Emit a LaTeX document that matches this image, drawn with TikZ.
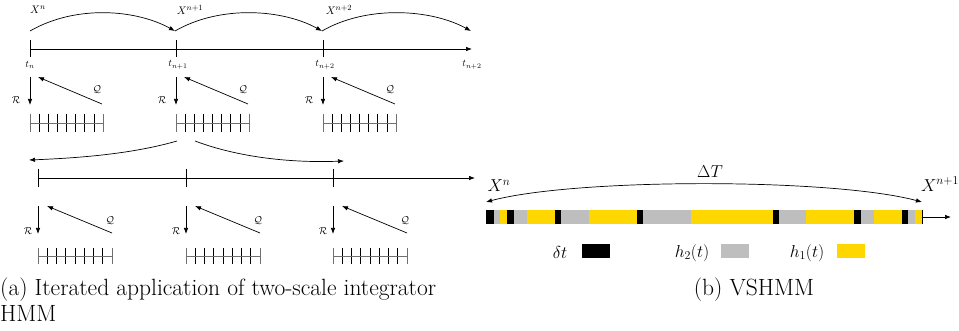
\documentclass[tikz,border=0pt]{standalone}
\usetikzlibrary{arrows.meta}
\definecolor{hgold}{HTML}{FFD700}
\definecolor{hgray}{HTML}{BEBEBE}
\definecolor{gridgray}{HTML}{707070}
\begin{document}
\begin{tikzpicture}[x=1pt,y=-1pt,
  arr/.style={-{Latex[length=6pt,width=4.5pt]}, line width=0.7pt},
  darr/.style={{Latex[length=6pt,width=4.5pt]}-{Latex[length=6pt,width=4.5pt]}, line width=0.7pt},
  tickline/.style={line width=0.7pt},
  lab/.style={inner sep=0pt, font=\fontsize{10}{12}\selectfont},
  biglab/.style={inner sep=0pt, font=\fontsize{17}{20}\selectfont},
  captext/.style={inner sep=0pt, anchor=base west, font=\fontsize{23.5}{28}\selectfont},
  gridln/.style={line width=0.9pt, gridgray},
  gtick/.style={line width=0.6pt, black}]
\useasboundingbox (0,0) rectangle (959,331);

% ---------- top row ----------
\foreach \i/\x in {0/30,1/176,2/323}{
  \coordinate (tt\i) at (\x,49);
  \draw[tickline] (\x,40) -- (\x,57);
}
\coordinate (tend) at (472,49);
\draw[arr] (tt0) -- (tend);

\coordinate (a0) at (30,31);
\coordinate (a1) at (175,31);
\coordinate (a2) at (322,31);
\coordinate (a3) at (471,31);
\draw[arr] (a0) .. controls +(45,-26) and +(-40,-22) .. (a1);
\draw[arr] (a1) .. controls +(45,-26) and +(-40,-22) .. (a2);
\draw[arr] (a2) .. controls +(45,-26) and +(-40,-22) .. (a3);

\node[lab,font=\fontsize{11}{13}\selectfont] (xn) at (38,10) {$X^n$};
\node[lab,font=\fontsize{11}{13}\selectfont] (xn1) at (190,10) {$X^{n+1}$};
\node[lab,font=\fontsize{11}{13}\selectfont] (xn2) at (339,10) {$X^{n+2}$};

\node[lab] (t0) at (30,65) {$t_n$};
\node[lab] (t1) at (178,65) {$t_{n+1}$};
\node[lab] (t2) at (325,65) {$t_{n+2}$};
\node[lab] (t3) at (472,65) {$t_{n+2}$};

\foreach \i/\x in {0/30,1/176,2/323}{
  \draw[arr] (\x,77) -- (\x,105);
  \draw[arr] (\x+72,104) -- (\x+8,77);
  \node[lab] (r\i) at (\x-14,100) {$\mathcal{R}$};
  \node[lab] (q\i) at (\x+67,90) {$\mathcal{Q}$};
  \foreach \k in {1,...,7}{
    \draw[gtick] (\x+\k*73/8,114) -- (\x+\k*73/8,132);
  }
  \draw[gridln] (\x,114) -- (\x,132);
  \draw[gridln] (\x+73,114) -- (\x+73,132);
  \draw[gridln] (\x,123) -- (\x+73,123);
}

% ---------- middle row ----------
\foreach \i/\x in {0/38,1/186,2/333}{
  \coordinate (mt\i) at (\x,178);
  \draw[tickline] (\x,169) -- (\x,187);
}
\coordinate (mend) at (475,178);
\draw[arr] (mt0) -- (mend);

\coordinate (ls) at (177,141);
\coordinate (le) at (29,160);
\coordinate (rs) at (195,141);
\coordinate (rend) at (344,161);
\draw[arr] (ls) .. controls +(-45,13) and +(50,-2) .. (le);
\draw[arr] (rs) .. controls +(45,17) and +(-50,2) .. (rend);

\foreach \i/\x in {0/38,1/186,2/333}{
  \draw[arr] (\x,206) -- (\x,234);
  \draw[arr] (\x+74,233) -- (\x+9,206);
  \node[lab] (mr\i) at (\x-10,231) {$\mathcal{R}$};
  \node[lab] (mq\i) at (\x+72,221) {$\mathcal{Q}$};
  \foreach \k in {1,...,7}{
    \draw[gtick] (\x+\k*74/8,248) -- (\x+\k*74/8,264);
  }
  \draw[gridln] (\x,248) -- (\x,264);
  \draw[gridln] (\x+74,248) -- (\x+74,264);
  \draw[gridln] (\x,256) -- (\x+74,256);
}

% ---------- right part ----------
\foreach \a/\b/\c in {
 486/494/black, 494/500/hgray, 500/507/hgold, 507/514/black, 514/527/hgray,
 527/555/hgold, 555/561/black, 561/589/hgray, 589/637/hgold, 637/643/black,
 643/691/hgray, 691/773/hgold, 773/779/black, 779/806/hgray, 806/854/hgold,
 854/861/black, 861/874/hgray, 874/902/hgold, 902/908/black, 908/915/hgray,
 915/922/hgold}{
  \fill[\c] (\a,210) rectangle (\b,224);
}
\coordinate (bs) at (922,217);
\coordinate (be) at (951,217);
\draw[line width=0.8pt] (922,210) -- (922,224);
\draw[arr] (bs) -- (be);

\coordinate (dl) at (486,202);
\coordinate (dr) at (922,202);
\draw[darr] (dl) .. controls +(90,-24) and +(-90,-24) .. (dr);
\node[biglab] (dT) at (710,172) {$\Delta T$};
\node[biglab] (bxn) at (499,186) {$X^n$};
\node[biglab] (bxn1) at (940,184) {$X^{n+1}$};

\node[biglab] (ldt) at (560,253) {$\delta t$};
\fill[black] (582,244) rectangle (610,258);
\node[biglab] (lh2) at (692,253) {$h_2(t)$};
\fill[hgray] (721,244) rectangle (749,258);
\node[biglab] (lh1) at (807,253) {$h_1(t)$};
\fill[hgold] (837,244) rectangle (865,258);

% ---------- captions ----------
\node[captext] (capa) at (0,295) {(a) Iterated application of two-scale integrator};
\node[captext] (capa2) at (0,321) {HMM};
\node[captext, anchor=base] (capb) at (754,295) {(b) VSHMM};
\end{tikzpicture}
\end{document}
